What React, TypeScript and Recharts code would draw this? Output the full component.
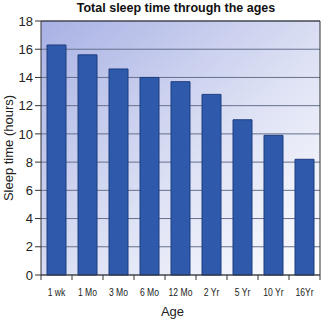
import React from 'react'
import { BarChart, Bar, XAxis, YAxis, CartesianGrid, ReferenceLine } from 'recharts'

const ages = ['1 wk', '1 Mo', '3 Mo', '6 Mo', '12 Mo', '2 Yr', '5 Yr', '10 Yr', '16Yr']
const sleepHours = [16.3, 15.6, 14.6, 14.0, 13.7, 12.8, 11.0, 9.9, 8.2]
const yTicks = [0, 2, 4, 6, 8, 10, 12, 14, 16, 18]

const data = ages.map((age, i) => ({ age, hours: sleepHours[i] }))

// narrow labels: squeeze the text horizontally around its centre
const AgeTick = (props: any) => {
  const { x, y, payload, index } = props
  const off = payload.offset || 0
  return (
    <g>
      <line x1={x - off} x2={x - off} y1={y - 8} y2={y - 3} stroke="#333" />
      {index === ages.length - 1 && (
        <line x1={x + off} x2={x + off} y1={y - 8} y2={y - 3} stroke="#333" />
      )}
      <text
        x={x}
        y={y + 13}
        textAnchor="middle"
        fontSize={11}
        fill="#222"
        transform={`translate(${x} 0) scale(0.78 1) translate(${-x} 0)`}
      >
        {payload.value}
      </text>
    </g>
  )
}

const YLabel = ({ viewBox }: any) => {
  const cy = viewBox.y + viewBox.height / 2
  return (
    <text x={8} y={cy} transform={`rotate(-90 8 ${cy})`} textAnchor="middle" dominantBaseline="central" fontSize={13} fill="#222">
      Sleep time (hours)
    </text>
  )
}

export default function App() {
  return (
    <div style={{ position: 'absolute', left: 0, top: 0, width: 322, height: 319, background: '#fff', fontFamily: "'Liberation Sans', Arial, sans-serif" }}>
      <div style={{ position: 'absolute', left: 0, top: 0, width: 352, textAlign: 'center', fontWeight: 'bold', fontSize: 12.5, lineHeight: '16px', color: '#111' }}>
        Total sleep time through the ages
      </div>
      <BarChart width={322} height={319} data={data} margin={{ top: 21, right: 0, left: 0, bottom: 0 }} barSize={19}>
        <defs>
          <linearGradient id="bg" x1="0" y1="0" x2="1" y2="1">
            <stop offset="0%" stopColor="#a8b1e4" />
            <stop offset="55%" stopColor="#dde1f4" />
            <stop offset="100%" stopColor="#ffffff" />
          </linearGradient>
        </defs>
        <CartesianGrid vertical={false} stroke="#66708c" fill="url(#bg)" fillOpacity={1} />
        <ReferenceLine y={18} stroke="#333" />
        <XAxis
          dataKey="age"
          height={44}
          axisLine={{ stroke: '#333' }}
          tickLine={false}
          interval={0}
          tick={<AgeTick />}
          label={{ value: 'Age', position: 'insideBottom', offset: 3, fontSize: 13, fill: '#222', dx: -8 }}
        />
        <YAxis
          domain={[0, 18]}
          ticks={yTicks}
          width={41}
          tickSize={6}
          tickMargin={2}
          axisLine={{ stroke: '#333' }}
          tickLine={{ stroke: '#333' }}
          tick={{ fontSize: 13, fill: '#222' }}
          label={<YLabel />}
        />
        <YAxis yAxisId="r" orientation="right" width={2} tick={false} tickLine={false} axisLine={{ stroke: '#333' }} />
        <Bar dataKey="hours" fill="#2f5aab" stroke="#1d3d80" strokeWidth={1} isAnimationActive={false} />
      </BarChart>
    </div>
  )
}
